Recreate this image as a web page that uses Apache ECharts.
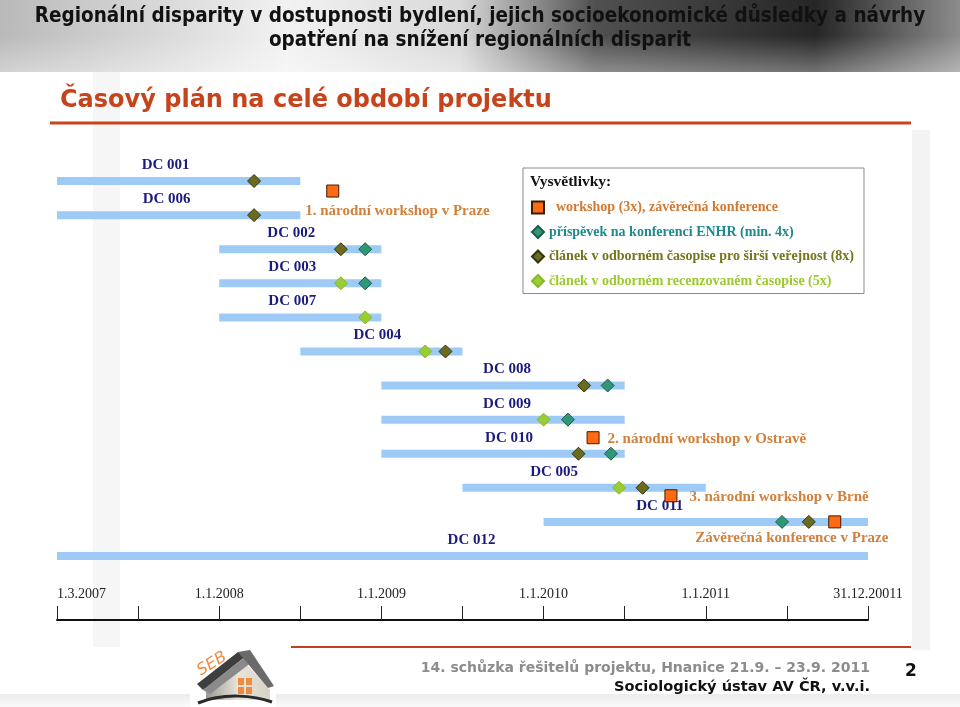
<!DOCTYPE html>
<html>
<head>
<meta charset="utf-8">
<script src="https://cdn.jsdelivr.net/npm/echarts@6/dist/echarts.min.js"></script>
<style>
html,body{margin:0;padding:0;background:#fff;}
#chart{width:960px;height:707px;}
</style>
</head>
<body>
<div id="chart"></div>
<script>
// ---- data ----
// x values are in half-year steps of the time axis: 0 = 1.3.2007, 2 = 1.1.2008, ..., 10 = 31.12.2011
const rows = ['DC 001','DC 006','DC 002','DC 003','DC 007','DC 004','DC 008','DC 009','DC 010','DC 005','DC 011','DC 012'];
const barStart = [0, 0, 2, 2, 2, 3, 4, 4, 4, 5, 6, 0];
const barEnd   = [3, 3, 4, 4, 4, 5, 7, 7, 7, 8, 10, 10];
const tickLabels = ['1.3.2007','1.1.2008','1.1.2009','1.1.2010','1.1.2011','31.12.20011'];

const enhrX    = [3.8, 3.8, 6.79, 6.3, 6.83, 8.94];
const enhrRow  = ['DC 002','DC 003','DC 008','DC 009','DC 010','DC 011'];
const popX     = [2.43, 2.43, 3.5, 4.79, 6.5, 6.43, 7.22, 9.27];
const popRow   = ['DC 001','DC 006','DC 002','DC 004','DC 008','DC 010','DC 005','DC 011'];
const revX     = [3.5, 3.8, 4.54, 6.0, 6.93];
const revRow   = ['DC 003','DC 007','DC 004','DC 009','DC 005'];
const wsX      = [3.4, 6.61, 7.57, 9.59];
const wsRow    = ['DC 001','DC 010','DC 005','DC 011'];
const wsNames  = ['1. národní workshop v Praze','2. národní workshop v Ostravě','3. národní workshop v Brně','Závěrečná konference v Praze'];

const nameWs  = 'workshop (3x), závěrečná konference';
const nameEn  = 'příspěvek na konferenci ENHR (min. 4x)';
const namePop = 'článek v odborném časopise pro širší veřejnost (8x)';
const nameRev = 'článek v odborném recenzovaném časopise (5x)';

// ---- styles (layout tweaks, not data) ----
const serif = '"Liberation Serif", "Times New Roman", serif';
const wsOffsets = [ {dy: 10, lp: [-21, 27]}, {dy: -16, lp: [21, 8]}, {dy: 8, lp: [25, 8]}, {dy: 0, lp: [-133, 23]} ];
const rowLabelDx = [-13, -12, -9, -8, -8, -4, 4, 4, 6, -30, -46, 9];

const chart = echarts.init(document.getElementById('chart'), null, {renderer: 'canvas'});

const option = {
  animation: false,
  backgroundColor: '#ffffff',
  grid: {left: 57, right: 92, top: 164, bottom: 134},
  xAxis: {
    type: 'value', min: 0, max: 10, interval: 1, position: 'bottom', offset: 47,
    axisLine: {show: true, lineStyle: {color: '#111', width: 2}},
    axisTick: {show: true, inside: true, length: 14, lineStyle: {color: '#222', width: 1}},
    axisLabel: {
      inside: true, margin: 19, color: '#222', fontFamily: serif, fontSize: 14,
      alignMinLabel: 'left',
      formatter: v => (Math.round(v) % 2 === 0 ? tickLabels[Math.round(v) / 2] : '')
    },
    splitLine: {show: false}
  },
  yAxis: {
    type: 'category', data: rows, inverse: true, show: false
  },
  legend: {
    left: 523, top: 168, orient: 'vertical',
    padding: [32, 10, 5, 8], itemGap: 9.5, itemWidth: 12, itemHeight: 12,
    borderColor: '#8a8a8a', borderWidth: 1, backgroundColor: '#fff',
    textStyle: {fontFamily: serif, fontSize: 14, fontWeight: 'bold', lineHeight: 15},
    data: [
      {name: nameWs, textStyle: {color: '#d27a33'}},
      {name: nameEn, textStyle: {color: '#1f8a8c'}},
      {name: namePop, textStyle: {color: '#75751c'}},
      {name: nameRev, textStyle: {color: '#9bca30'}}
    ],
    formatter: n => (n === nameWs ? '  ' + n : n)
  },
  graphic: [
    // header band
    {type: 'rect', z: -10, shape: {x: 0, y: 0, width: 960, height: 72},
     style: {fill: new echarts.graphic.LinearGradient(0, 0, 1, 0.25, [
       {offset: 0, color: '#b9b9b9'}, {offset: 0.3, color: '#f2f2f2'}, {offset: 0.48, color: '#d8d8d8'},
       {offset: 0.62, color: '#505050'}, {offset: 0.85, color: '#262626'}, {offset: 1, color: '#8c8c8c'}])}},
    {type: 'rect', z: -9, shape: {x: 0, y: 36, width: 960, height: 36},
     style: {fill: new echarts.graphic.LinearGradient(0, 0, 0, 1, [
       {offset: 0, color: 'rgba(255,255,255,0)'}, {offset: 1, color: 'rgba(255,255,255,0.35)'}])}},
    {type: 'text', z: 10, style: {text: 'Regionální disparity v dostupnosti bydlení, jejich socioekonomické důsledky a návrhy',
      x: 480, y: 17, align: 'center', verticalAlign: 'middle', fill: '#111',
      font: 'bold 20.5px "DejaVu Sans Condensed", "DejaVu Sans", sans-serif'}},
    {type: 'text', z: 10, style: {text: 'opatření na snížení regionálních disparit',
      x: 480, y: 41, align: 'center', verticalAlign: 'middle', fill: '#111',
      font: 'bold 20.5px "DejaVu Sans Condensed", "DejaVu Sans", sans-serif'}},
    // faint background stripes
    {type: 'rect', z: -10, shape: {x: 93, y: 72, width: 27, height: 575}, style: {fill: '#f6f6f6'}},
    {type: 'rect', z: -10, shape: {x: 912, y: 130, width: 18, height: 520}, style: {fill: '#f3f3f3'}},
    // subtitle
    {type: 'text', z: 10, style: {text: 'Časový plán na celé období projektu', x: 60, y: 101,
      align: 'left', verticalAlign: 'middle', fill: '#c6441b', font: 'bold 24px "DejaVu Sans", Verdana, sans-serif'}},
    {type: 'rect', z: 10, shape: {x: 50, y: 121.5, width: 861, height: 3}, style: {fill: '#c8441b'}},
    // legend title
    {type: 'text', z: 20, style: {text: 'Vysvětlivky:', x: 530, y: 182, align: 'left', verticalAlign: 'middle',
      fill: '#111', font: 'bold 15.5px ' + serif}},
    // footer
    {type: 'rect', z: 10, shape: {x: 291, y: 646, width: 620, height: 2}, style: {fill: '#c4401c'}},
    {type: 'text', z: 10, style: {text: '14. schůzka řešitelů projektu, Hnanice 21.9. – 23.9. 2011', x: 870, y: 668,
      align: 'right', verticalAlign: 'middle', fill: '#8c8c8c', font: 'bold 14px "DejaVu Sans", Verdana, sans-serif'}},
    {type: 'text', z: 10, style: {text: 'Sociologický ústav AV ČR, v.v.i.', x: 870, y: 687,
      align: 'right', verticalAlign: 'middle', fill: '#111', font: 'bold 14.6px "DejaVu Sans", Verdana, sans-serif'}},
    {type: 'text', z: 10, style: {text: '2', x: 911, y: 672, align: 'center', verticalAlign: 'middle',
      fill: '#111', font: 'bold 17px "DejaVu Sans", Verdana, sans-serif'}},
    {type: 'rect', z: -10, shape: {x: 0, y: 694, width: 960, height: 13},
     style: {fill: new echarts.graphic.LinearGradient(0, 0, 0, 1, [{offset: 0, color: '#ececec'}, {offset: 1, color: '#fafafa'}])}},
    // logo (approximation)
    {type: 'group', z: 10, children: [
      {type: 'rect', shape: {x: 190, y: 644, width: 86, height: 63}, style: {fill: '#ffffff'}},
      {type: 'polygon', shape: {points: [[206, 700], [206, 684], [243, 660], [270, 690], [270, 700]]},
       style: {fill: new echarts.graphic.LinearGradient(0, 0, 1, 0, [{offset: 0, color: '#9a9a92'}, {offset: 0.5, color: '#e8e4da'}, {offset: 1, color: '#d8d2c4'}])}},
      {type: 'polygon', shape: {points: [[197, 684], [238, 652], [246, 656], [203, 690]]}, style: {fill: '#3e3e3e'}},
      {type: 'polygon', shape: {points: [[203, 690], [246, 656], [252, 662], [210, 694]]}, style: {fill: '#8a8a8a'}},
      {type: 'polygon', shape: {points: [[238, 652], [250, 650], [274, 686], [268, 688]]}, style: {fill: '#6a6a6a'}},
      {type: 'rect', shape: {x: 238, y: 678, width: 6, height: 7}, style: {fill: '#f08a40'}},
      {type: 'rect', shape: {x: 246, y: 678, width: 6, height: 7}, style: {fill: '#f08a40'}},
      {type: 'rect', shape: {x: 238, y: 687, width: 6, height: 7}, style: {fill: '#f08a40'}},
      {type: 'rect', shape: {x: 246, y: 687, width: 6, height: 7}, style: {fill: '#f08a40'}},
      {type: 'bezierCurve', shape: {x1: 198, y1: 703, x2: 272, y2: 702, cpx1: 225, cpy1: 692, cpx2: 255, cpy2: 696},
       style: {stroke: '#2a2a2a', lineWidth: 3, fill: null}},
      {type: 'text', rotation: 0.55, x: 212, y: 664, style: {text: 'SEB', x: 0, y: 0, align: 'center', verticalAlign: 'middle',
        fill: '#f08a40', font: 'italic 16px "DejaVu Sans", sans-serif'}}
    ]}
  ],
  series: [
    {
      type: 'custom', name: 'bars', z: 1,
      encode: {x: [0, 1], y: 2},
      data: rows.map((r, i) => [barStart[i], barEnd[i], r]),
      renderItem: (params, api) => {
        const s = api.coord([api.value(0), api.value(2)]);
        const e = api.coord([api.value(1), api.value(2)]);
        const h = 8;
        return {
          type: 'group',
          children: [
            {type: 'rect', shape: {x: s[0], y: s[1] - h / 2, width: e[0] - s[0], height: h}, style: {fill: '#9dcbf5'}},
            {type: 'text', style: {text: rows[params.dataIndex], x: (s[0] + e[0]) / 2 + rowLabelDx[params.dataIndex], y: s[1] - 16,
              align: 'center', verticalAlign: 'middle', fill: '#1b1b7e', font: 'bold 15px ' + serif}}
          ]
        };
      }
    },
    {
      type: 'scatter', name: nameWs, z: 5, symbol: 'rect', symbolSize: 12,
      itemStyle: {color: '#ff6a12', borderColor: '#3c1c04', borderWidth: 1, opacity: 1},
      label: {show: true, formatter: p => wsNames[p.dataIndex], align: 'left', verticalAlign: 'middle',
        color: '#d2803c', fontFamily: serif, fontSize: 15, fontWeight: 'bold'},
      data: wsX.map((x, i) => ({
        value: [x, wsRow[i]],
        symbolOffset: [0, wsOffsets[i].dy],
        label: {position: wsOffsets[i].lp}
      }))
    },
    {
      type: 'scatter', name: nameEn, z: 4, symbol: 'diamond', symbolSize: 13,
      itemStyle: {color: '#2f9676', borderColor: '#1d5e4c', borderWidth: 1, opacity: 1},
      data: enhrX.map((x, i) => [x, enhrRow[i]])
    },
    {
      type: 'scatter', name: namePop, z: 4, symbol: 'diamond', symbolSize: 13,
      itemStyle: {color: '#6b6b1f', borderColor: '#34340c', borderWidth: 1, opacity: 1},
      data: popX.map((x, i) => [x, popRow[i]])
    },
    {
      type: 'scatter', name: nameRev, z: 4, symbol: 'diamond', symbolSize: 13,
      itemStyle: {color: '#9acd32', borderColor: '#86b828', borderWidth: 1, opacity: 1},
      data: revX.map((x, i) => [x, revRow[i]])
    }
  ]
};
chart.setOption(option);
</script>
</body>
</html>
